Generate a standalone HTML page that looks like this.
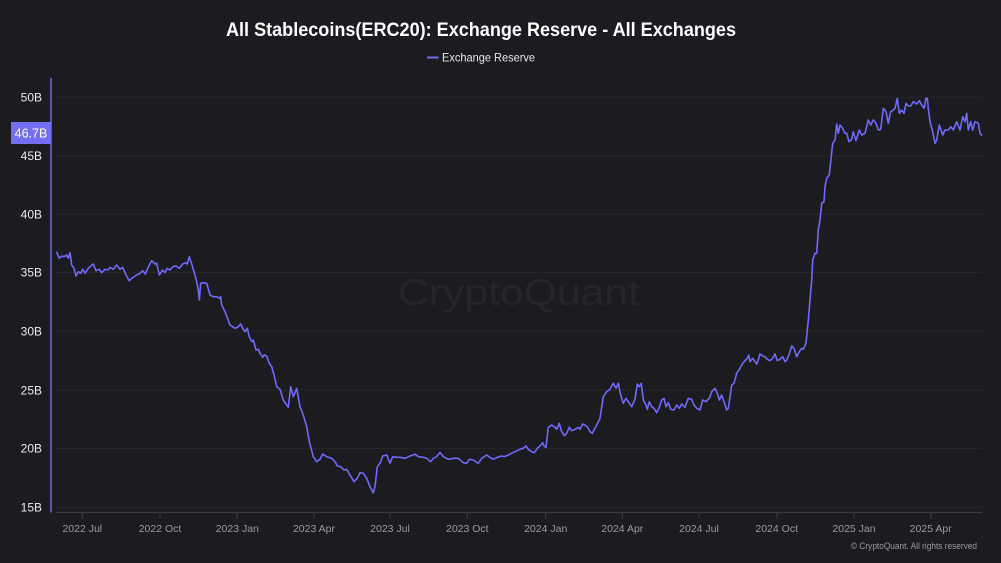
<!DOCTYPE html>
<html>
<head>
<meta charset="utf-8">
<style>
  html, body { margin: 0; padding: 0; background: #1b1b20; }
  body { width: 1001px; height: 563px; overflow: hidden; }
  svg { display: block; font-family: "Liberation Sans", "DejaVu Sans", sans-serif; }
</style>
</head>
<body>
<svg width="1001" height="563" viewBox="0 0 1001 563" xmlns="http://www.w3.org/2000/svg">
  <rect x="0" y="0" width="1001" height="563" fill="#1b1b20"/>

  <!-- Title -->
  <text x="226" y="36" font-size="19" font-weight="bold" fill="#ffffff" textLength="510" lengthAdjust="spacingAndGlyphs">All Stablecoins(ERC20): Exchange Reserve - All Exchanges</text>

  <!-- Legend -->
  <line x1="427" y1="57.5" x2="438.5" y2="57.5" stroke="#6f6af8" stroke-width="2"/>
  <text x="442" y="61.5" font-size="12" fill="#e6e6ea" textLength="93" lengthAdjust="spacingAndGlyphs">Exchange Reserve</text>

  <!-- Watermark -->
  <text x="398" y="305" font-size="37" fill="#25252b" textLength="242" lengthAdjust="spacingAndGlyphs">CryptoQuant</text>

  <!-- Grid lines -->
  <g stroke="#27272d" stroke-width="1">
    <line x1="56" y1="97.3" x2="982" y2="97.3"/>
    <line x1="56" y1="156" x2="982" y2="156"/>
    <line x1="56" y1="214.3" x2="982" y2="214.3"/>
    <line x1="56" y1="272.3" x2="982" y2="272.3"/>
    <line x1="56" y1="331.3" x2="982" y2="331.3"/>
    <line x1="56" y1="390.3" x2="982" y2="390.3"/>
    <line x1="56" y1="448.3" x2="982" y2="448.3"/>
    <line x1="56" y1="507.3" x2="982" y2="507.3"/>
  </g>

  <!-- X axis -->
  <line x1="56" y1="512.5" x2="982" y2="512.5" stroke="#3a3a41" stroke-width="1.2"/>
  <g stroke="#3a3a41" stroke-width="1.2">
    <line x1="82.3" y1="512.5" x2="82.3" y2="518"/>
    <line x1="160" y1="512.5" x2="160" y2="518"/>
    <line x1="237.3" y1="512.5" x2="237.3" y2="518"/>
    <line x1="314" y1="512.5" x2="314" y2="518"/>
    <line x1="390" y1="512.5" x2="390" y2="518"/>
    <line x1="467.3" y1="512.5" x2="467.3" y2="518"/>
    <line x1="545.7" y1="512.5" x2="545.7" y2="518"/>
    <line x1="622.3" y1="512.5" x2="622.3" y2="518"/>
    <line x1="699" y1="512.5" x2="699" y2="518"/>
    <line x1="776.7" y1="512.5" x2="776.7" y2="518"/>
    <line x1="854" y1="512.5" x2="854" y2="518"/>
    <line x1="930.7" y1="512.5" x2="930.7" y2="518"/>
  </g>
  <g font-size="10.5" fill="#9a9aa2" text-anchor="middle">
    <text x="82.3" y="532">2022 Jul</text>
    <text x="160" y="532">2022 Oct</text>
    <text x="237.3" y="532">2023 Jan</text>
    <text x="314" y="532">2023 Apr</text>
    <text x="390" y="532">2023 Jul</text>
    <text x="467.3" y="532">2023 Oct</text>
    <text x="545.7" y="532">2024 Jan</text>
    <text x="622.3" y="532">2024 Apr</text>
    <text x="699" y="532">2024 Jul</text>
    <text x="776.7" y="532">2024 Oct</text>
    <text x="854" y="532">2025 Jan</text>
    <text x="930.7" y="532">2025 Apr</text>
  </g>

  <!-- Y axis -->
  <line x1="51" y1="78" x2="51" y2="512.5" stroke="#6864e0" stroke-width="1.6"/>
  <g font-size="12" fill="#ececf0" text-anchor="end">
    <text x="42" y="101.5">50B</text>
    <text x="42" y="160">45B</text>
    <text x="42" y="218.5">40B</text>
    <text x="42" y="276.5">35B</text>
    <text x="42" y="335.5">30B</text>
    <text x="42" y="394.5">25B</text>
    <text x="42" y="452.5">20B</text>
    <text x="42" y="511.5">15B</text>
  </g>

  <!-- Series -->
  <polyline fill="none" stroke="#6f6af8" stroke-width="1.6" stroke-linejoin="round" stroke-linecap="round" points="
56.7,252.3 59.3,258.3 61.7,256 64,256.7 66.7,255 68.3,258.3 70,252.7 71.7,265 74,268.3 76,276 78.3,271.7 80.7,273.3 82.7,269.3 85,273.3 88.3,268.3 93.3,264 96,270.7 99.3,269.3 101.7,272.7 105,269.3 108.3,270 110,267.3 113.3,269.3 116.7,265 120,269.3 122.7,267.3 126,275 129.3,280.7 132.7,277.7 136.7,275 140,273.3 142.7,270.7 145.3,274 147.3,269.3 149.3,265 151.7,260.7 155,264 156.7,263.3 159.3,275 162.7,270 165,272.7 167.3,268.3 170,270 172.7,266.7 176,266 179.3,268.3 182.7,264 186,262.7 187.3,264 189.3,256.7 191.7,264 194,271.7 196.7,281.7 198.3,290 199.3,300 200.7,283.3 203.3,282.7 206.7,283.3 210,295 213.3,296.7 216.7,296.7 219.3,298.3 220.7,296.7 221.7,305
225,311.7 230,325 235,328.3 238.3,326.7 240.7,324 242.7,328.3 245,331.7 247.3,328.3 249.3,336.7 251.7,341.7 253.3,340 256,350 258.3,349.3 260,353.3 262.7,357.3 264.3,355 266.7,356 269.3,363.3 271.7,366.7 274,375 276.7,386.7 280,389.3 283.3,400 286.7,405 288.3,407.3 290.7,386.7 293.3,396.7 296.7,388.3 300,406.7 303.3,415 306.7,426.7 309.3,441.7 313.3,456.7 316.7,461.7 320,459.3 322.7,454 326.7,456.7 331.7,458.3 335,461.7 337.3,466 340.7,466.7 344,470 346.7,469.3 350,475 354,481.7 357.3,478.3 360,472.7 363.3,473.3 366.7,478.3 370,486.7 373.3,492.7 375,486.7 377.3,466.7 380,463.3 382.7,456 386.7,455 390,463.3 392.7,456.7 396.7,457.3
400,457.3 405,458.3 410,456 415,454.3 418.3,456.7 423.3,457.3 426.7,458.3 430.7,461.7 433.3,458.3 436.7,456.7 440,452.3 443.3,456.7 448.3,459.3 453.3,458.3 458.3,458.3 463.3,462.7 466.7,463.3 469.3,459.3 473.3,460 478.3,463.3 481.7,458.3 486.7,455 490,457.3 493.3,459.3 497.3,457.3 501.7,456 504,456.7 508.3,455 512.7,452.7 515,451.7 520,449.3 523.3,448.3 526,446 528.3,449.3 531.7,451.7 534.3,452.7 537.3,448.3 540,446 542.7,442.7 544,446 546,447.3 548.3,427.3 551.7,425 555,427.3 556.7,429.3 559.3,423.3 561.7,431.7 564.3,435.7 566.7,433.3 569.3,427.3 571.7,430.7 575,429.3 578.3,427.3 580,429.3 582.7,424 585,425 587.7,427.3 590,431.7 592.3,433.3 596.7,425 600,418.3 603.3,396.7 606.7,391.7 610,389.3 613.3,383.3 616,388.3 618.3,383.3 620.7,395 623.3,403.3 626,398.3 628.3,401.7 631.7,406.7 635,399.3 637.3,384
639.3,386.7 641.3,383.3 643.3,400 646,405 647.3,409.3 649.3,401.7 651.7,406.7 654,408.3 656.7,412.7 659.3,407.3 661.7,400 664,398.3 666,406.7 668.3,402.7 670.7,409.3 674,410 676.7,405 679.3,408.3 681.7,404 685,407.3 688.3,398.3 691.7,399.3 694,405 696.7,408.3 700,410 702.7,400 706,401.7 709.3,398.3 711.7,391.7 715,388.3 717.3,393.3 719.3,400 721.7,395 724,401.7 726.7,410 728.3,408.3 730,396.7 731.7,385 734,383.3 736.7,373.3 740,368.3 742.7,363.3 745,360.7 747.3,358.3 748.7,355 750,361.7 752.7,358.3 755,361.7 756.7,364 758.3,360 760,354 762.7,356 765,356.7 767.3,359.3 770,360.7 772.7,358.3 775,354 777.3,360.7 780,359.3 782.7,356.7 785,361.7 786.7,360 789.3,354 791.7,346 794,348.3 796.7,356.7 799.3,351.7 801.7,348.3 803.3,349.3 806,343.3 807.3,330 808.5,318 810,300 811.7,280 812.7,260
815,253.3 816.7,253.3 818.3,230 820,220 821.7,203.3 824,201.7 825,186.7 826.7,178.3 829.3,175 830.7,161.7 832.7,143.3 835,140 836.7,124 838.3,133.3 840,125 842.7,128.3 845,133.3 846.7,133.3 849,141.7 851.7,139.3 853.3,131.7 856,140.7 859.3,130 861.7,135 865,133.3 868.3,120 870.7,125 873.3,120 876,123.3 878.3,130 880.7,129.3 883.3,108.3 886,111.7 888.3,123.3 890.7,111.7 893.3,110 895,108.3 897.3,98.3 899.3,113.3 901.7,110 904,113.3 906,103.3 908.3,106 910.7,106 913.3,101.7 916.7,104 919.3,100.7 921.7,105 924,108.3 926,98.3 927.3,98.3 928.3,108.3 930,121.7 932.7,131.7 935,143.3 936.7,140 939.3,125 942.7,135 945,130 948.3,130 950.7,126.7 953.3,130 956.7,121.7 960,130 962.7,116.7 965,121.7 966.7,113.3 968.3,130 970.7,121.7 972.7,130 975,121.7 978.3,123.3 980,133.3 981.7,135
"/>

  <!-- Current value badge -->
  <rect x="11" y="122" width="40" height="22" fill="#746ff2"/>
  <text x="31" y="137.5" font-size="12.5" fill="#ffffff" text-anchor="middle">46.7B</text>

  <!-- Footer -->
  <text x="851" y="549" font-size="9" fill="#9a9aa2" textLength="126" lengthAdjust="spacingAndGlyphs">© CryptoQuant. All rights reserved</text>
</svg>
</body>
</html>
